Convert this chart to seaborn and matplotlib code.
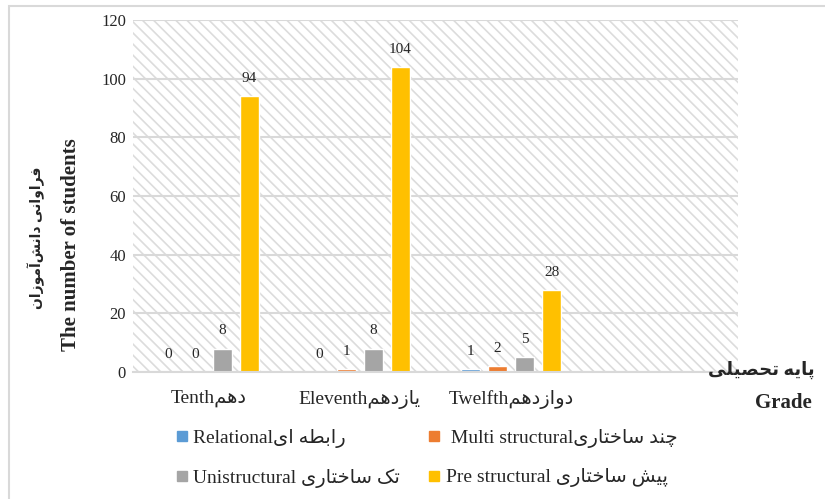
import numpy as np
import pandas as pd
import seaborn as sns
import matplotlib.pyplot as plt
from matplotlib.patches import Rectangle
from matplotlib.lines import Line2D

# Persian letter forms: (isolated, final, initial, medial); None = no joining to the next letter
FORMS = {
    'ا': ('\uFE8D', '\uFE8E', None, None),
    'آ': ('\uFE81', '\uFE82', None, None),
    'ب': ('\uFE8F', '\uFE90', '\uFE91', '\uFE92'),
    'پ': ('\uFB56', '\uFB57', '\uFB58', '\uFB59'),
    'ت': ('\uFE95', '\uFE96', '\uFE97', '\uFE98'),
    'ح': ('\uFEA1', '\uFEA2', '\uFEA3', '\uFEA4'),
    'خ': ('\uFEA5', '\uFEA6', '\uFEA7', '\uFEA8'),
    'چ': ('\uFB7A', '\uFB7B', '\uFB7C', '\uFB7D'),
    'د': ('\uFEA9', '\uFEAA', None, None),
    'ر': ('\uFEAD', '\uFEAE', None, None),
    'ز': ('\uFEAF', '\uFEB0', None, None),
    'س': ('\uFEB1', '\uFEB2', '\uFEB3', '\uFEB4'),
    'ش': ('\uFEB5', '\uFEB6', '\uFEB7', '\uFEB8'),
    'ص': ('\uFEB9', '\uFEBA', '\uFEBB', '\uFEBC'),
    'ط': ('\uFEC1', '\uFEC2', '\uFEC3', '\uFEC4'),
    'ف': ('\uFED1', '\uFED2', '\uFED3', '\uFED4'),
    'ل': ('\uFEDD', '\uFEDE', '\uFEDF', '\uFEE0'),
    'م': ('\uFEE1', '\uFEE2', '\uFEE3', '\uFEE4'),
    'ن': ('\uFEE5', '\uFEE6', '\uFEE7', '\uFEE8'),
    'ه': ('\uFEE9', '\uFEEA', '\uFEEB', '\uFEEC'),
    'و': ('\uFEED', '\uFEEE', None, None),
    '\u06CC': ('\uFBFC', '\uFBFD', '\uFBFE', '\uFBFF'),
    '\u064A': ('\uFBFC', '\uFBFD', '\uFBFE', '\uFBFF'),
    '\u06A9': ('\uFB8E', '\uFB8F', '\uFB90', '\uFB91'),
    '\u0643': ('\uFB8E', '\uFB8F', '\uFB90', '\uFB91'),
}


def fa(text):
    # shape Persian letters and put them in visual (left to right) order
    out = []
    for i, ch in enumerate(text):
        f = FORMS.get(ch)
        if f is None:
            if ch != '\u200c':
                out.append(ch)
            continue
        prev = text[i - 1] if i > 0 else ''
        nxt = text[i + 1] if i + 1 < len(text) else ''
        jp = prev in FORMS and FORMS[prev][2] is not None
        jn = nxt in FORMS and f[2] is not None
        if jp and jn:
            out.append(f[3])
        elif jp:
            out.append(f[1])
        elif jn:
            out.append(f[2])
        else:
            out.append(f[0])
    return ''.join(reversed(out))


# data
grades = ['Tenth' + fa('دهم'), 'Eleventh' + fa('یازدهم'), 'Twelfth' + fa('دوازدهم')]
levels = ['Relational' + fa('رابطه ای'),
          ' Multi structural' + fa('چند ساختاری'),
          'Unistructural ' + fa('تک ساختاری'),
          'Pre structural ' + fa('پیش ساختاری')]
relational = [0, 0, 1]
multi_structural = [0, 1, 2]
unistructural = [8, 8, 5]
pre_structural = [94, 104, 28]
yticks = [0, 20, 40, 60, 80, 100, 120]
colors = ['#5B9BD5', '#ED7D31', '#A5A5A5', '#FFC000']

df = pd.DataFrame({
    'grade': grades * 4,
    'level': np.repeat(levels, 3),
    'count': relational + multi_structural + unistructural + pre_structural,
})

sns.set_style('white')
plt.rcParams['font.family'] = ['Liberation Serif', 'DejaVu Sans']
plt.rcParams['hatch.linewidth'] = 1.2

fig = plt.figure(figsize=(8.25, 4.99), dpi=100)
ax = fig.add_axes([133 / 825, 1 - 372 / 499, (738 - 133) / 825, (372 - 20) / 499])

# hatched plot background
ax.add_patch(Rectangle((0, 0), 1, 1, transform=ax.transAxes, facecolor='white',
                       edgecolor='#dcdcdc', hatch='\\\\\\', lw=0, zorder=0))

sns.barplot(data=df, x='grade', y='count', hue='level', order=grades, hue_order=levels,
            palette=colors, saturation=1, width=0.715, gap=0.3, errorbar=None,
            legend=False, ax=ax, zorder=2)

for c in ax.containers:
    ax.bar_label(c, fmt='%d', padding=8, fontsize=11)

ax.set_ylim(0, 120)
ax.set_yticks(yticks)
ax.set_xlim(-0.5, 3.5)
ax.set_axisbelow(True)
ax.yaxis.grid(True, color='#d9d9d9', lw=1.5)
for s in ['left', 'right', 'top']:
    ax.spines[s].set_visible(False)
ax.spines['bottom'].set_color('#d9d9d9')
ax.spines['bottom'].set_linewidth(1.5)
ax.tick_params(length=0)
ax.tick_params(axis='x', labelsize=14, pad=13)
ax.tick_params(axis='y', labelsize=12, pad=5)
ax.set_xlabel('')
ax.set_ylabel('')

# axis titles
fig.text(71 / 825, 1 - 245 / 499, 'The number of students', rotation=90, fontsize=15,
         fontweight='bold', ha='center', va='center')
fig.text(36 / 825, 1 - 238 / 499, fa('فراوانی دانش\u200cآموزان'), rotation=90, fontsize=10,
         fontweight='bold', ha='center', va='center')
fig.text(815 / 825, 1 - 370 / 499, fa('پایه تحصیلی'), fontsize=13, fontweight='bold',
         ha='right', va='center')
fig.text(783 / 825, 1 - 403 / 499, 'Grade', fontsize=15, fontweight='bold',
         ha='center', va='center')

# legend, two rows
handles = [Line2D([], [], marker='s', ls='none', markersize=7.5, color=c) for c in colors]
order = [0, 2, 1, 3]
fig.legend([handles[i] for i in order], [levels[i] for i in order], ncol=2,
           loc='upper left', bbox_to_anchor=(175 / 825, 1 - 429 / 499), frameon=False,
           fontsize=14, handlelength=0.7, handletextpad=0.25, columnspacing=1.4,
           labelspacing=1.05, borderpad=0, borderaxespad=0)

# light frame around the figure
fig.patches.append(Rectangle((9 / 825, -0.1), 1.0, 1 - 6 / 499 + 0.1, transform=fig.transFigure,
                             fill=False, ec='#d9d9d9', lw=1.5))

fig.savefig('out.png', dpi=100)
